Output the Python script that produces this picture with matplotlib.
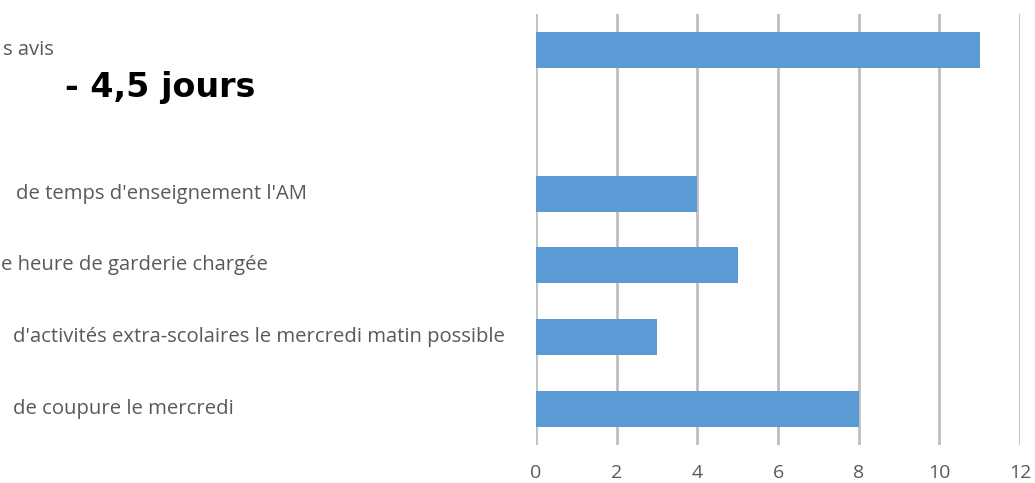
import matplotlib
matplotlib.use('Agg')
import matplotlib.pyplot as plt
from matplotlib import transforms

# data (top to bottom); only the visible part
# of each category label is kept, the start is cut off in the picture
categories = ['s avis',
              '',
              "de temps d'enseignement l'AM",
              'e heure de garderie chargée',
              "d'activités extra-scolaires le mercredi matin possible",
              'de coupure le mercredi']
values = [11, 0, 4, 5, 3, 8]
x_ticks = [0, 2, 4, 6, 8, 10, 12]
title = '- 4,5 jours'

# where each label starts, in pixels from the left edge
label_x_px = [3, 0, 16, 1, 13, 13]

bar_color = '#5B9BD5'
grid_color = '#BFBFBF'
text_color = '#595959'
label_font = 'Open Sans'
label_size = 14.6

fig = plt.figure(figsize=(10.35, 4.83), dpi=100)
W, H = 1035, 483
ax = fig.add_axes([536 / W, (H - 445) / H, (1020 - 536) / W, (445 - 14) / H])

pos = list(range(len(categories)))
ax.barh(pos, values, height=0.5, color=bar_color, zorder=3)
ax.set_ylim(len(categories) - 0.5, -0.5)
ax.set_xlim(0, 12)
ax.set_xticks(x_ticks)
ax.set_xticklabels([str(t) for t in x_ticks], fontsize=14, color=text_color, family=label_font)
ax.tick_params(axis='x', length=0, pad=14)
ax.set_yticks([])
ax.xaxis.grid(True, color=grid_color, linewidth=2, zorder=0)
for s in ax.spines.values():
    s.set_visible(False)

# category labels, left aligned
trans = transforms.blended_transform_factory(fig.transFigure, ax.transData)
for p, lab, xp in zip(pos, categories, label_x_px):
    ax.text(xp / W, p, lab, transform=trans, ha='left', va='center',
            fontsize=label_size, color=text_color, family=label_font)

fig.text(65 / W, (H - 97) / H, title, fontsize=24, fontweight='bold', family='DejaVu Sans',
         color='black', ha='left', va='baseline')

fig.savefig('out.png', dpi=100)
